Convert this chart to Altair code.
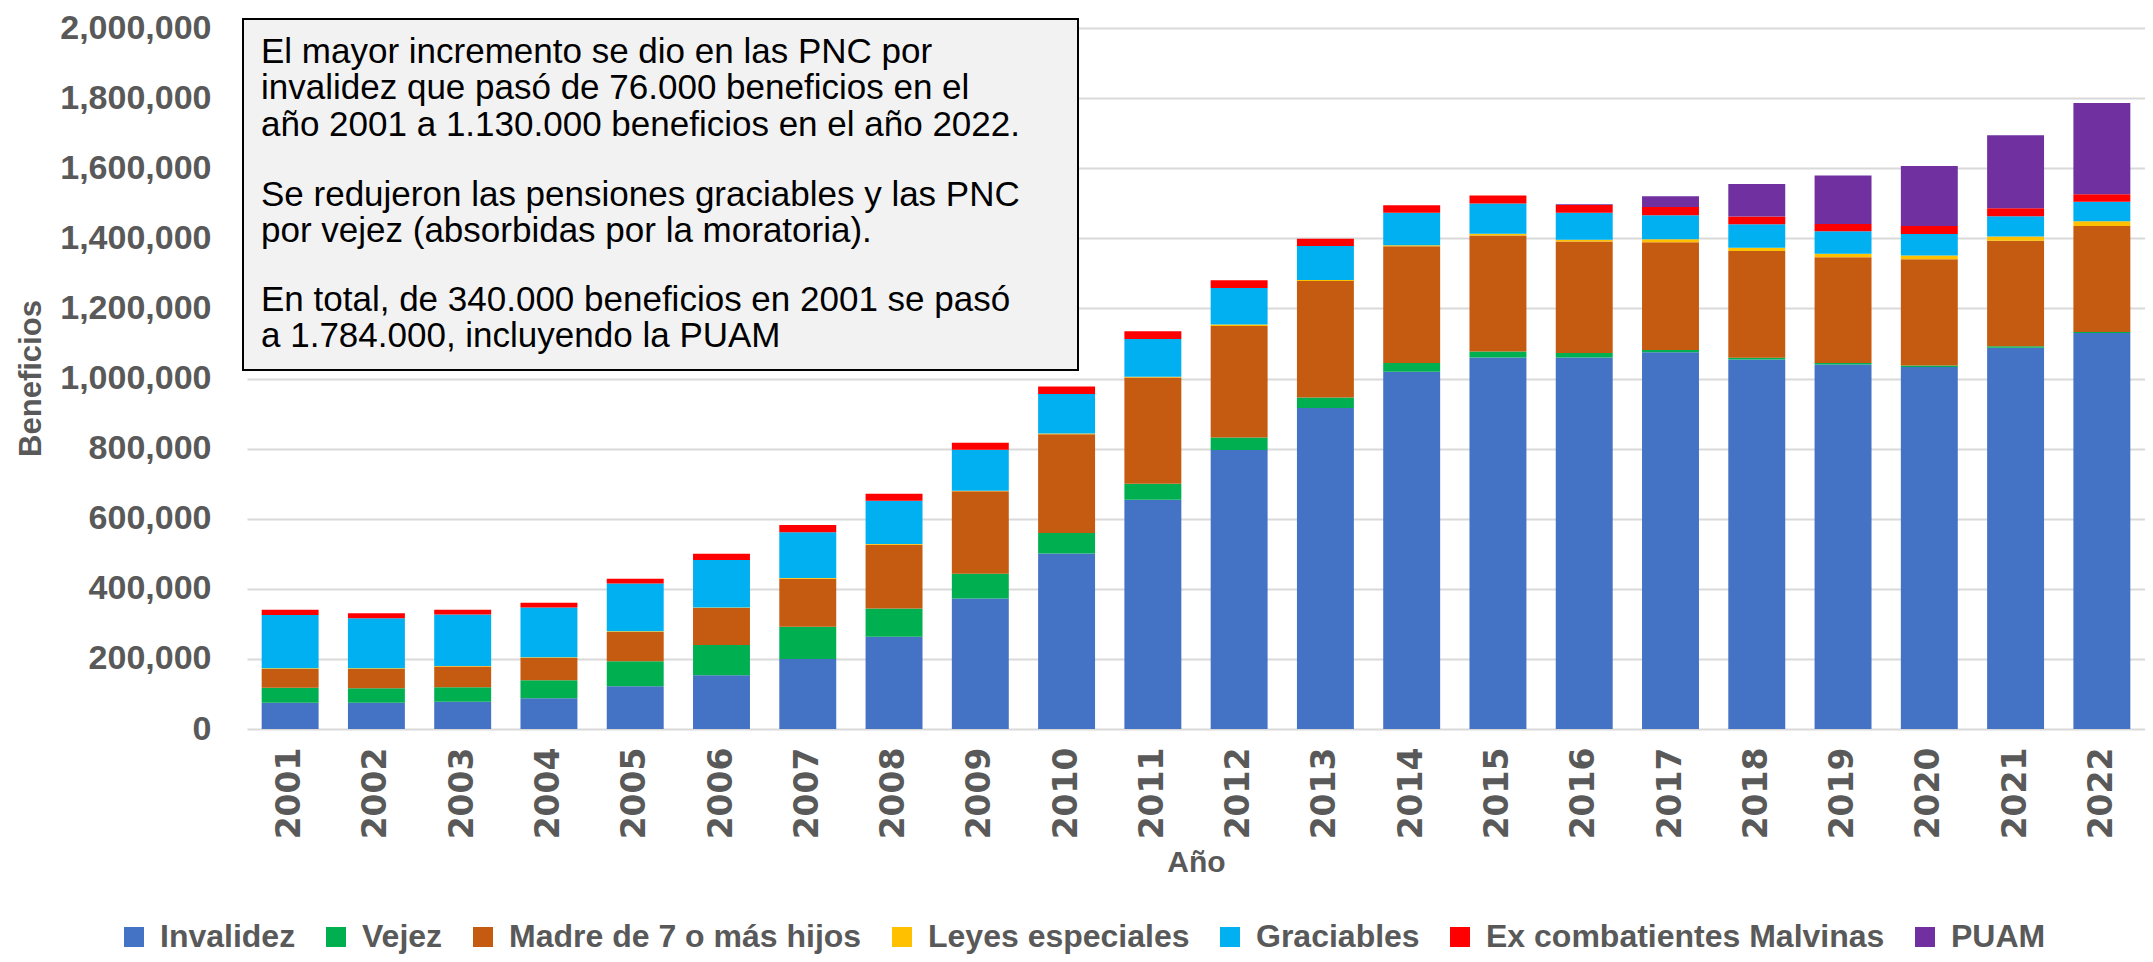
import altair as alt
import pandas as pd

years = ["2001", "2002", "2003", "2004", "2005", "2006", "2007", "2008", "2009", "2010", "2011",
         "2012", "2013", "2014", "2015", "2016", "2017", "2018", "2019", "2020", "2021", "2022"]

series = ["Invalidez", "Vejez", "Madre de 7 o más hijos", "Leyes especiales",
          "Graciables", "Ex combatientes Malvinas", "PUAM"]
colors = ["#4472C4", "#00B050", "#C55A11", "#FFC000", "#00B0F0", "#FF0000", "#7030A0"]

invalidez = [75000, 75000, 78000, 88000, 122000, 153000, 200000, 263000, 372000, 501000, 654000,
             796000, 916000, 1019000, 1060000, 1060000, 1075000, 1054000, 1040000, 1033000, 1088000, 1130000]
vejez = [43000, 41000, 41000, 51000, 71000, 87000, 92000, 81000, 71000, 58000, 46000,
         36000, 30000, 25000, 17000, 13000, 6000, 5000, 4000, 4000, 4000, 3000]
madre = [53000, 55000, 59000, 64000, 84000, 105000, 137000, 182000, 235000, 282000, 303000,
         318000, 332000, 333000, 331000, 318000, 308000, 305000, 302000, 303000, 301000, 302000]
leyes = [2000, 2000, 2000, 2000, 2000, 2000, 2000, 2000, 2000, 2000, 2000,
         4000, 3000, 3000, 5000, 5000, 8000, 9000, 10000, 11000, 12000, 14000]
graciables = [152000, 143000, 147000, 142000, 136000, 135000, 130000, 123000, 117000, 113000, 108000,
              104000, 97000, 93000, 86000, 77000, 69000, 67000, 64000, 61000, 58000, 55000]
malvinas = [15000, 14000, 13000, 13000, 14000, 18000, 21000, 20000, 20000, 21000, 22000,
            22000, 21000, 21000, 23000, 22000, 23000, 22000, 21000, 23000, 23000, 22000]
puam = [0, 0, 0, 0, 0, 0, 0, 0, 0, 0, 0,
        0, 0, 0, 0, 2000, 31000, 93000, 138000, 171000, 208000, 260000]

y_ticks = [0, 200000, 400000, 600000, 800000, 1000000, 1200000, 1400000, 1600000, 1800000, 2000000]

paragraph_1 = [
    "El mayor incremento se dio en las PNC por",
    "invalidez que pasó de 76.000 beneficios en el",
    "año 2001 a 1.130.000 beneficios en el año 2022.",
]
paragraph_2 = [
    "Se redujeron las pensiones graciables y las PNC",
    "por vejez (absorbidas por la moratoria).",
]
paragraph_3 = [
    "En total, de 340.000 beneficios en 2001 se pasó",
    "a 1.784.000, incluyendo la PUAM",
]

values = [invalidez, vejez, madre, leyes, graciables, malvinas, puam]
rows = []
for k, (name, vals) in enumerate(zip(series, values)):
    for yr, v in zip(years, vals):
        rows.append({"Año": yr, "Serie": name, "Beneficios": v, "orden": k})
df = pd.DataFrame(rows)

GREY = "#595959"
FONT = "Liberation Sans"

bars = alt.Chart(df).mark_bar().encode(
    x=alt.X("Año:N", sort=years,
            scale=alt.Scale(paddingInner=0.34, paddingOuter=0.17),
            axis=alt.Axis(title="Año", labelAngle=-90, labelFont="DejaVu Sans", labelFontSize=33,
                          labelFontWeight="bold", labelColor=GREY, labelPadding=18, ticks=False,
                          domain=False, grid=False, titleFont=FONT, titleFontSize=30,
                          titleFontWeight="bold", titleColor=GREY, titleY=133,
                          titleBaseline="middle")),
    y=alt.Y("Beneficios:Q", stack="zero",
            scale=alt.Scale(domain=[0, 2000000], nice=False),
            axis=alt.Axis(title="Beneficios", values=y_ticks, format=",d", labelFont=FONT,
                          labelFontSize=34, labelFontWeight="bold", labelColor=GREY,
                          labelPadding=36, ticks=False, domain=False, grid=True,
                          gridColor="#D9D9D9", gridWidth=2, titleFont=FONT,
                          titleFontSize=31, titleFontWeight="bold", titleColor=GREY,
                          titleX=-216, titleY=350, titleBaseline="middle", titleAngle=-90)),
    color=alt.Color("Serie:N", scale=alt.Scale(domain=series, range=colors),
                    legend=alt.Legend(title=None, orient="none", direction="horizontal",
                                      legendX=-129, legendY=893, symbolType="square",
                                      symbolSize=400, symbolStrokeWidth=0, labelFont=FONT,
                                      labelFontSize=32, labelFontWeight="bold", labelColor=GREY,
                                      labelOffset=10, columnPadding=24, labelLimit=600)),
    order=alt.Order("orden:Q", sort="ascending"),
)

box = alt.Chart(pd.DataFrame({"k": [0]})).mark_rect(
    fill="#F2F2F2", stroke="black", strokeWidth=2
).encode(x=alt.value(-4), x2=alt.value(831), y=alt.value(-9), y2=alt.value(342))


def para(lines, y):
    return alt.Chart(pd.DataFrame({"k": [0]})).mark_text(
        text=lines, align="left", baseline="alphabetic", font=FONT, fontSize=35,
        lineHeight=36.4, color="black"
    ).encode(x=alt.value(14), y=alt.value(y))


chart = alt.layer(
    bars, box, para(paragraph_1, 35), para(paragraph_2, 178), para(paragraph_3, 283)
).properties(
    width=1898, height=701,
    autosize=alt.AutoSizeParams(type="none"),
    padding={"left": 239, "top": 20, "right": 0, "bottom": 225},
).configure_view(stroke=None)

chart.save("out.html", embed_options={"renderer": "svg", "actions": False})
